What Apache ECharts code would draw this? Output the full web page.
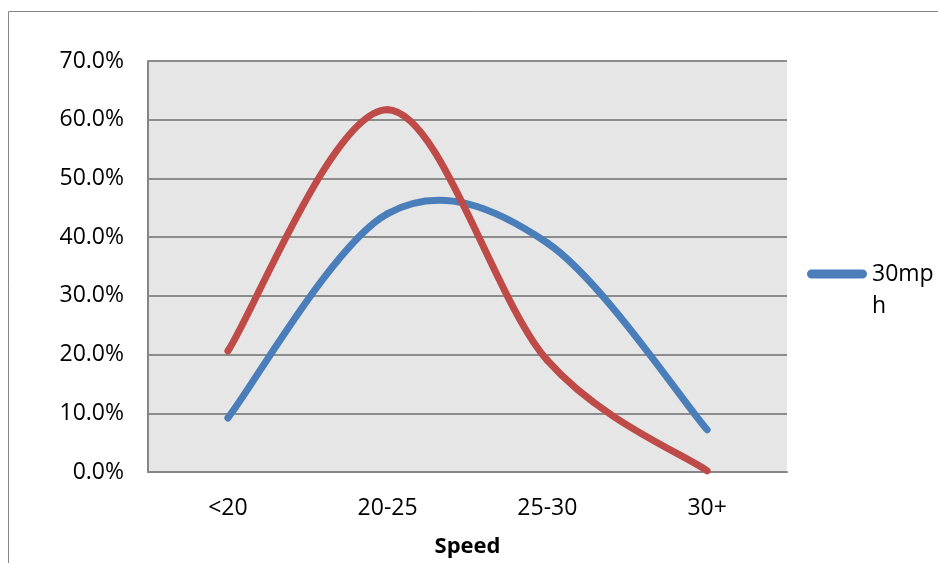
<!DOCTYPE html>
<html>
<head>
<meta charset="utf-8">
<script src="https://cdn.jsdelivr.net/npm/echarts@6/dist/echarts.min.js"></script>
<style>
html,body{margin:0;padding:0;background:#fff;}
#chart{width:938px;height:563px;}
</style>
</head>
<body>
<div id="chart"></div>
<script>
const categories = ['<20', '20-25', '25-30', '30+'];
const series30mph = [9.2, 44.0, 39.0, 7.2];
const seriesOther = [20.6, 61.7, 19.0, 0.2];
const yTicks = [0, 10, 20, 30, 40, 50, 60, 70];
const xAxisTitle = 'Speed';
const legendName = '30mph';

const FONT = '"Open Sans", "Liberation Sans", sans-serif';
const BLUE = '#4a7ebb';
const RED = '#be4b48';

// Excel-style smoothed line: cubic Bezier through the data points,
// control points derived from neighbours (Catmull-Rom, 1/6 tension).
function smoothRender(values, color) {
  return function (params, api) {
    const pts = values.map((v, i) => api.coord([i, v]));
    const children = [];
    for (let i = 0; i < pts.length - 1; i++) {
      const p0 = pts[i - 1] || pts[i];
      const p1 = pts[i];
      const p2 = pts[i + 1];
      const p3 = pts[i + 2] || pts[i + 1];
      children.push({
        type: 'bezierCurve',
        shape: {
          x1: p1[0], y1: p1[1],
          cpx1: p1[0] + (p2[0] - p0[0]) / 6, cpy1: p1[1] + (p2[1] - p0[1]) / 6,
          cpx2: p2[0] - (p3[0] - p1[0]) / 6, cpy2: p2[1] - (p3[1] - p1[1]) / 6,
          x2: p2[0], y2: p2[1]
        },
        style: {stroke: color, fill: null, lineWidth: 7, lineCap: 'round', lineJoin: 'round'}
      });
    }
    return {type: 'group', children: children};
  };
}

// pill icon drawn at top of a 60x41 box so it lines up with the first text line
const PILL_ICON = 'path://M4.5,0 L55.5,0 A4.5,4.5 0 0 1 55.5,9 L4.5,9 A4.5,4.5 0 0 1 4.5,0 Z M0,41 L60,41 L0,41 Z';

const chart = echarts.init(document.getElementById('chart'), null, {renderer: 'canvas'});
chart.setOption({
  backgroundColor: '#ffffff',
  animation: false,
  graphic: [{
    type: 'rect',
    shape: {x: 8.5, y: 11.5, width: 1200, height: 1000},
    style: {fill: 'none', stroke: '#868686', lineWidth: 1},
    z: -1
  }],
  grid: {
    left: 148, top: 61, right: 151, bottom: 91,
    show: true, backgroundColor: '#e6e6e6', borderWidth: 0
  },
  legend: {
    data: [{name: legendName, icon: PILL_ICON, itemStyle: {color: BLUE}}],
    left: 807, top: 258, padding: 0,
    itemWidth: 60, itemHeight: 41, itemGap: 3,
    textStyle: {
      fontFamily: FONT, fontSize: 23, color: '#000',
      width: 62, overflow: 'break', lineHeight: 32
    }
  },
  xAxis: {
    type: 'category',
    data: categories,
    boundaryGap: true,
    name: xAxisTitle,
    nameLocation: 'middle',
    nameGap: 64,
    nameTextStyle: {fontFamily: FONT, fontSize: 22, fontWeight: 'bold', color: '#000'},
    axisLine: {show: true, lineStyle: {color: '#868686', width: 2}},
    axisTick: {show: false},
    axisLabel: {fontFamily: FONT, fontSize: 23, color: '#000', margin: 25},
    splitLine: {show: false}
  },
  yAxis: {
    type: 'value',
    min: yTicks[0], max: yTicks[yTicks.length - 1], interval: 10,
    axisLine: {show: true, lineStyle: {color: '#868686', width: 2}},
    axisTick: {show: false},
    axisLabel: {
      fontFamily: FONT, fontSize: 23, color: '#000', margin: 24,
      formatter: v => v.toFixed(1) + '%'
    },
    splitLine: {show: true, lineStyle: {color: '#8c8c8c', width: 2}}
  },
  series: [
    {
      name: legendName, type: 'custom', coordinateSystem: 'cartesian2d',
      data: [[0, series30mph[0]]],
      itemStyle: {color: BLUE},
      renderItem: smoothRender(series30mph, BLUE),
      z: 3
    },
    {
      name: 'other', type: 'custom', coordinateSystem: 'cartesian2d',
      data: [[0, seriesOther[0]]],
      itemStyle: {color: RED},
      renderItem: smoothRender(seriesOther, RED),
      z: 4
    }
  ]
});
</script>
</body>
</html>
